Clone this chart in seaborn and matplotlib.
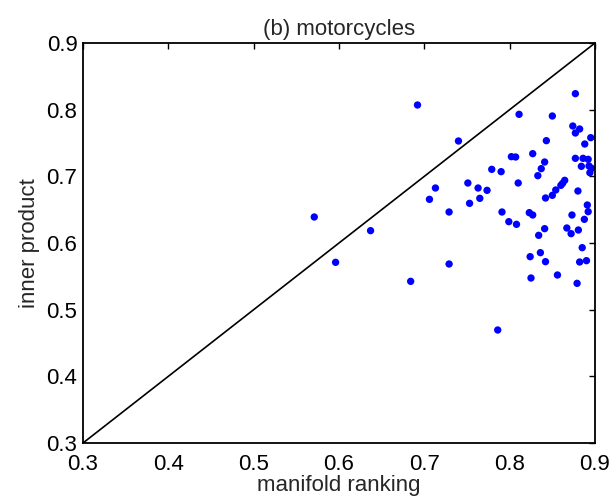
import matplotlib
matplotlib.use("Agg")
import matplotlib.pyplot as plt
import seaborn as sns
import pandas as pd

manifold_ranking = [
    0.571, 0.637, 0.596, 0.692, 0.740, 0.713, 0.706, 0.729, 0.751, 0.763,
    0.753, 0.765, 0.811, 0.843, 0.802, 0.807, 0.827, 0.841, 0.837, 0.833,
    0.779, 0.790, 0.810, 0.7735, 0.842, 0.791, 0.823, 0.827, 0.799, 0.808,
    0.841, 0.834, 0.824, 0.836, 0.842, 0.729, 0.825, 0.684, 0.786, 0.877,
    0.850, 0.874, 0.882, 0.877, 0.895, 0.888, 0.877, 0.886, 0.892, 0.884,
    0.893, 0.896, 0.894, 0.8645, 0.862, 0.860, 0.854, 0.880, 0.850, 0.891,
    0.892, 0.873, 0.8875, 0.867, 0.8805, 0.872, 0.885, 0.882, 0.890, 0.856,
    0.879,
]
inner_product = [
    0.639, 0.6185, 0.571, 0.807, 0.753, 0.6825, 0.6655, 0.6465, 0.690, 0.6825,
    0.6595, 0.667, 0.793, 0.7535, 0.7295, 0.729, 0.734, 0.7215, 0.7115, 0.701,
    0.7105, 0.707, 0.690, 0.679, 0.6675, 0.6465, 0.6455, 0.642, 0.632, 0.628,
    0.6215, 0.6115, 0.5795, 0.5855, 0.572, 0.5685, 0.5475, 0.5425, 0.4695, 0.824,
    0.7905, 0.7755, 0.771, 0.765, 0.758, 0.7485, 0.727, 0.727, 0.7255, 0.715,
    0.7155, 0.712, 0.7055, 0.694, 0.6895, 0.6865, 0.6795, 0.678, 0.6715, 0.657,
    0.647, 0.642, 0.6355, 0.6225, 0.6195, 0.614, 0.593, 0.5715, 0.5735, 0.552,
    0.5395,
]
diag = [0.3, 0.9]
ticks = [0.3, 0.4, 0.5, 0.6, 0.7, 0.8, 0.9]
title = "(b) motorcycles"
xlabel = "manifold ranking"
ylabel = "inner product"

sns.set_theme(style="white")
plt.rcParams["font.family"] = ["Liberation Sans", "DejaVu Sans"]

df = pd.DataFrame({"mr": manifold_ranking, "ip": inner_product})

fig = plt.figure(figsize=(6.12, 5.03), dpi=100)
ax = fig.add_axes([83 / 612, 1 - 443 / 503, 512 / 612, 400 / 503])

ax.plot(diag, diag, color="black", linewidth=1.2, zorder=1)
sns.scatterplot(data=df, x="mr", y="ip", ax=ax, color="#0000ff", s=28,
                edgecolor="none", linewidth=0, zorder=2)

ax.set_xlim(0.3, 0.9)
ax.set_ylim(0.3, 0.9)
ax.set_xticks(ticks)
ax.set_yticks(ticks)
ax.set_xticklabels([f"{t:.1f}" for t in ticks])
ax.set_yticklabels([f"{t:.1f}" for t in ticks])
ax.tick_params(direction="in", length=4, width=1, top=True, right=True,
               labelsize=16, colors="black")
ax.tick_params(axis="x", pad=8)
ax.tick_params(axis="y", pad=4)
for sp in ax.spines.values():
    sp.set_visible(True)
    sp.set_color("black")
    sp.set_linewidth(1.3)

ax.set_xlabel(xlabel, fontsize=16, labelpad=0)
ax.set_ylabel(ylabel, fontsize=16, labelpad=5)
ax.set_title(title, fontsize=16, pad=6)

fig.savefig("out.png", dpi=100)
